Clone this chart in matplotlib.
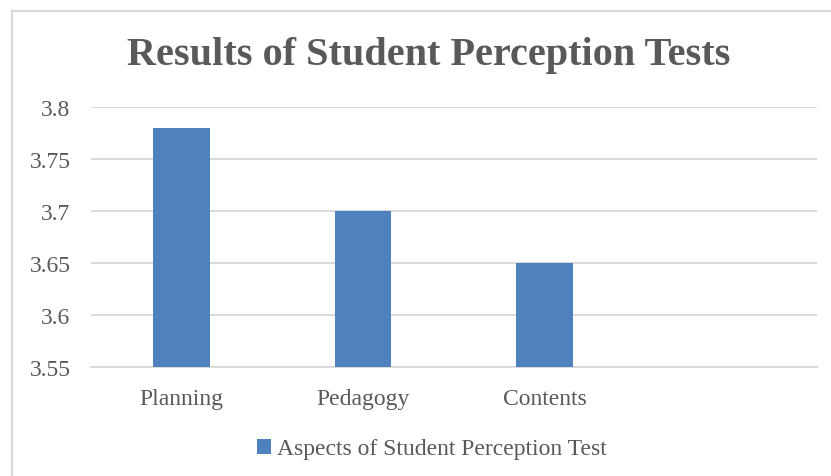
import matplotlib
matplotlib.use("Agg")
import matplotlib.pyplot as plt
from matplotlib.lines import Line2D
from matplotlib.patches import Patch

categories = ["Planning", "Pedagogy", "Contents", ""]
values = [3.78, 3.70, 3.65, None]
series_name = "Aspects of Student Perception Test"
yticks = [3.55, 3.6, 3.65, 3.7, 3.75, 3.8]
ytick_labels = ["3.55", "3.6", "3.65", "3.7", "3.75", "3.8"]
title = "Results of Student Perception Tests"

W, H = 831, 477
DPI = 100
plt.rcParams['font.family'] = ['Liberation Serif', 'DejaVu Serif']
TEXT = "#595959"
GRID = "#D9D9D9"
BLUE = "#4F81BD"

fig = plt.figure(figsize=(W / DPI, H / DPI), dpi=DPI)
fig.patch.set_facecolor("white")

left, right = 90.7, 817
top, bottom = 108.3, 367.7
ax = fig.add_axes([left / W, 1 - bottom / H, (right - left) / W, (bottom - top) / H])

xs = [i for i, v in enumerate(values) if v is not None]
vs = [v for v in values if v is not None]
ax.bar(xs, [v - 3.55 for v in vs], bottom=3.55, width=0.31, color=BLUE, zorder=3)

ax.set_xlim(-0.5, len(categories) - 0.5)
ax.set_ylim(3.55, 3.8)
ax.set_yticks(yticks)
ax.set_yticklabels(ytick_labels)
ax.set_xticks(range(len(categories)))
ax.set_xticklabels(categories)
for s in ["top", "right", "left"]:
    ax.spines[s].set_visible(False)
ax.spines["bottom"].set_color(GRID)
ax.spines["bottom"].set_linewidth(1.4)
ax.yaxis.grid(True, color=GRID, linewidth=1.4, zorder=0)
ax.set_axisbelow(True)
ax.tick_params(axis="both", length=0, labelsize=17, colors=TEXT)
ax.tick_params(axis="y", pad=14.5)
ax.tick_params(axis="x", pad=15.5)

fig.text(429 / W, 1 - 55 / H, title, ha="center", va="center",
         fontsize=29, fontweight="bold", color=TEXT)

handle = Patch(facecolor=BLUE, edgecolor="none")
leg = fig.legend([handle], [series_name], loc="center",
                 bbox_to_anchor=(432 / W, 1 - 450 / H), frameon=False,
                 fontsize=17, handlelength=0.6, handleheight=0.6,
                 handletextpad=0.25, labelcolor=TEXT)

# outer chart border (partially cropped)
fig.add_artist(Line2D([11.5 / W, 11.5 / W], [0, 1 - 12 / H], color=GRID,
                      linewidth=1.6, transform=fig.transFigure))
fig.add_artist(Line2D([11.5 / W, 1], [1 - 12 / H, 1 - 12 / H], color=GRID,
                      linewidth=1.6, transform=fig.transFigure))

fig.savefig("out.png", dpi=DPI, facecolor="white")
